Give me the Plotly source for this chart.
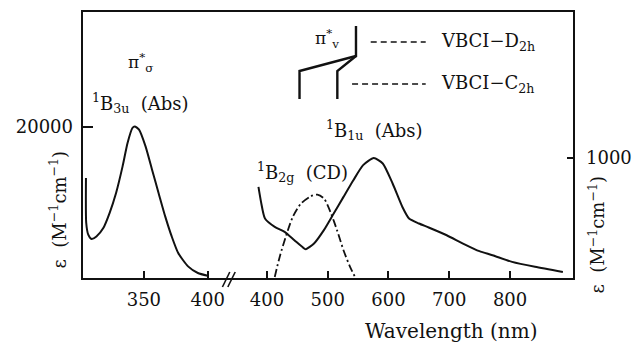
import plotly.graph_objects as go

# ---- data ----
wl_uv = [304.6, 304.8, 306.4, 309.0, 312.8, 318.2, 323.1, 328.2, 333.3, 337.2, 341.0,
         342.8, 346.2, 351.3, 356.4, 361.5, 366.7, 371.8, 376.9, 384.6, 392.3, 400.0]
eps_uv = [13290, 7400, 5830, 5260, 5600, 6710, 8680, 11320, 14820, 17900, 19870,
          20080, 19650, 17450, 14380, 11320, 8240, 5600, 3420, 1660, 790, 430]

wl_vis = [386.1, 390.3, 396.8, 412.9, 429.1, 445.2, 461.4, 464.1, 477.5, 493.7, 509.9,
          526.0, 542.2, 558.3, 575.8, 590.6, 606.8, 622.9, 633.8, 650.0, 666.2, 695.8,
          722.6, 749.6, 771.1, 803.4, 841.0, 886.9]
eps_vis = [758, 635, 498, 429, 388, 319, 251, 245, 292, 402, 539,
           676, 813, 937, 995, 951, 786, 593, 498, 457, 424, 360,
           292, 229, 196, 141, 100, 58]

wl_cd = [412.9, 421.0, 431.8, 442.6, 456.1, 472.2, 483.0, 493.7, 504.5, 515.3, 526.0, 536.8, 544.9]
cd = [17, 182, 360, 511, 621, 681, 695, 663, 552, 402, 237, 100, 17]

uv_ticks = [350, 400]
vis_ticks = [400, 500, 600, 700, 800]
left_yticks = [20000]
right_yticks = [1000]

# ---- layout geometry helpers (decorations only) ----
W, H = 643, 343
L, R, T, B = 82, 60, 11, 64
PW, PH = W - L - R, H - T - B
def px(x):
    return (x - L) / PW
def py(y):
    return (H - B - y) / PH

split = px(230)
ink = "#111111"
serif = "DejaVu Serif"
NB = "\u00a0"

fig = go.Figure()
fig.add_trace(go.Scatter(x=wl_uv, y=eps_uv, mode="lines", xaxis="x", yaxis="y",
                         line=dict(color=ink, width=2, shape="spline", smoothing=0.6),
                         showlegend=False, hoverinfo="skip"))
fig.add_trace(go.Scatter(x=wl_vis, y=eps_vis, mode="lines", xaxis="x2", yaxis="y2",
                         line=dict(color=ink, width=2, shape="spline", smoothing=0.6),
                         showlegend=False, hoverinfo="skip"))
fig.add_trace(go.Scatter(x=wl_cd, y=cd, mode="lines", xaxis="x2", yaxis="y2",
                         line=dict(color=ink, width=1.8, shape="spline", smoothing=0.8,
                                   dash="8px,3px,2px,3px"),
                         showlegend=False, hoverinfo="skip"))

axis_common = dict(showgrid=False, zeroline=False, showline=False, ticks="inside",
                   tickwidth=2, tickcolor=ink,
                   tickfont=dict(family=serif, size=18, color=ink))

fig.update_layout(
    width=W, height=H, margin=dict(l=L, r=R, t=T, b=B),
    paper_bgcolor="white", plot_bgcolor="white",
    xaxis=dict(domain=[0, split], range=[301.5, 415.4], tickvals=uv_ticks,
               anchor="y", ticklen=8, ticklabelstandoff=8, **axis_common),
    xaxis2=dict(domain=[split, 1], range=[334.9, 905.2], tickvals=vis_ticks,
                anchor="y2", ticklen=8, ticklabelstandoff=8, **axis_common),
    yaxis=dict(domain=[0, 1], range=[0, 35263], tickvals=left_yticks, tickformat="d",
               anchor="x", ticklen=11, ticklabelstandoff=8, **axis_common),
    yaxis2=dict(domain=[0, 1], range=[0, 2206], tickvals=right_yticks, tickformat="d",
                anchor="x2", side="right", ticklen=7, ticklabelstandoff=11, **axis_common),
)

shapes = [
    dict(type="rect", xref="paper", yref="paper", x0=0, x1=1, y0=0, y1=1,
         line=dict(color=ink, width=2)),
    # axis break marks
    dict(type="line", xref="paper", yref="paper", x0=px(225), y0=py(287), x1=px(232.5), y1=py(272),
         line=dict(color=ink, width=1.6)),
    dict(type="line", xref="paper", yref="paper", x0=px(230.5), y0=py(287), x1=px(238), y1=py(272),
         line=dict(color=ink, width=1.6)),
    # pi*_v level diagram
    dict(type="path", xref="paper", yref="paper",
         path=f"M {px(361)},{py(26)} L {px(361)},{py(56)} L {px(303.5)},{py(71)} L {px(303.5)},{py(99)}",
         line=dict(color=ink, width=2.4)),
    dict(type="path", xref="paper", yref="paper",
         path=f"M {px(361)},{py(56)} L {px(342)},{py(71)} L {px(342)},{py(99)}",
         line=dict(color=ink, width=2.4)),
    dict(type="line", xref="paper", yref="paper", x0=px(376), y0=py(42), x1=px(432), y1=py(42),
         line=dict(color=ink, width=1.6, dash="6px,4px")),
    dict(type="line", xref="paper", yref="paper", x0=px(357), y0=py(84), x1=px(432), y1=py(84),
         line=dict(color=ink, width=1.6, dash="6px,4px")),
]
fig.update_layout(shapes=shapes)

def ann(text, x, y, size=19, xanchor="left", angle=0, family=serif):
    return dict(text=text, xref="paper", yref="paper", x=px(x), y=py(y), showarrow=False,
                xanchor=xanchor, yanchor="middle", textangle=angle,
                font=dict(family=family, size=size, color=ink))

annotations = [
    ann("π<sup>*</sup><sub>σ</sub>", 127, 62, size=17),
    ann(f"<sup>1</sup>B<sub>3u</sub>{NB}{NB}(Abs)", 90, 103, size=18),
    ann(f"<sup>1</sup>B<sub>2g</sub>{NB}{NB}(CD)", 258, 172, size=18),
    ann(f"<sup>1</sup>B<sub>1u</sub>{NB}{NB}(Abs)", 328, 130, size=18),
    ann("π<sup>*</sup><sub>v</sub>", 317, 38, size=17),
    ann("VBCI−D<sub>2h</sub>", 446, 42, size=18),
    ann("VBCI−C<sub>2h</sub>", 446, 84, size=18),
    ann("Wavelength (nm)", 458, 331, size=20, xanchor="center"),
    ann(f"ε{NB}{NB}(M<sup>−1</sup>cm<sup>−1</sup>)", 58, 209, size=18, xanchor="center", angle=-90),
    ann(f"ε{NB}{NB}(M<sup>−1</sup>cm<sup>−1</sup>)", 606, 235, size=18, xanchor="center", angle=-90),
]
fig.update_layout(annotations=annotations)

fig.write_html("out.html")
